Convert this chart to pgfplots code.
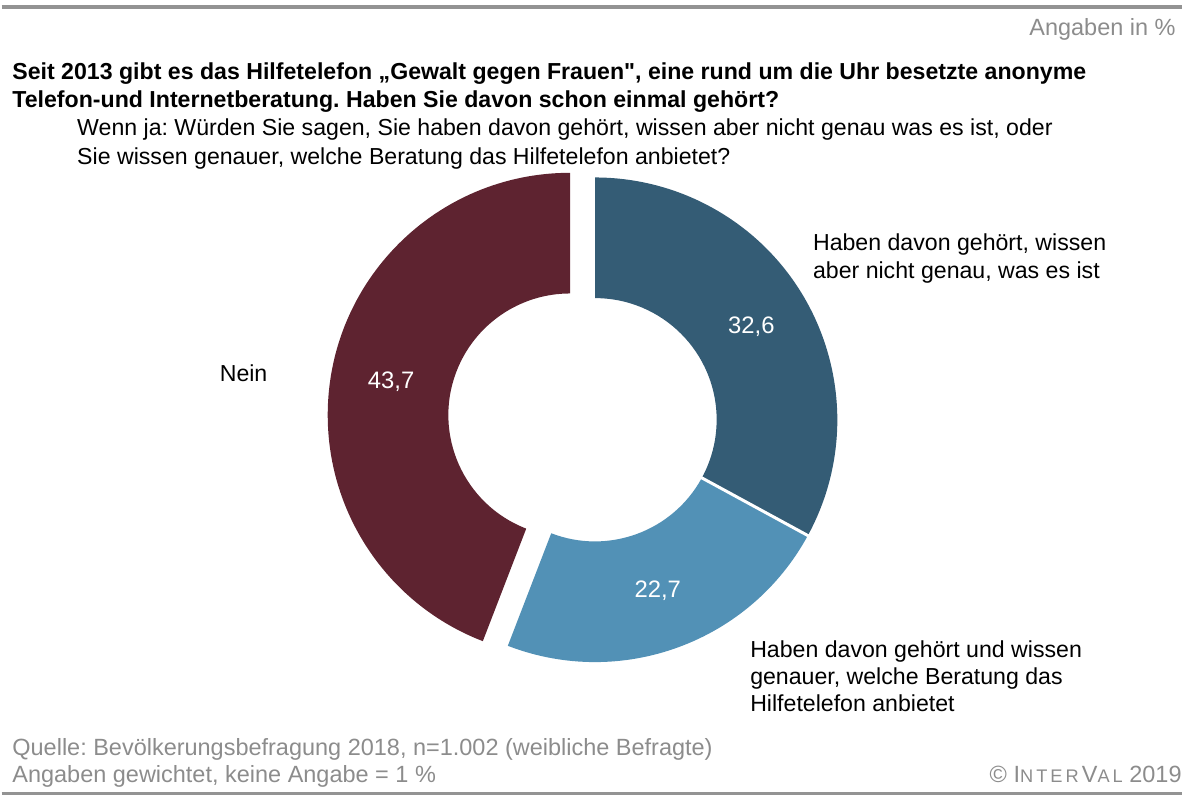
\documentclass[border=0pt]{standalone}
\usepackage{pgfplots}
\pgfplotsset{compat=1.18}
\usepackage{fontspec}
\setmainfont{Liberation Sans}
\frenchspacing
\definecolor{cnein}{HTML}{5E2330}
\definecolor{cdark}{HTML}{345C75}
\definecolor{clight}{HTML}{5291B6}
\definecolor{cgrey}{HTML}{8C8C8C}
\definecolor{crule}{HTML}{939393}

% shares in percent (keine Angabe = 1 %)
\def\vDark{32.6}
\def\vLight{22.7}
\def\vNein{43.7}
% ring geometry, 1 unit = 100 px of the original
\def\cx{5.95}\def\cy{3.78}\def\rIn{1.22}\def\rOut{2.43}\def\expl{0.255}

\pgfmathsetmacro\tot{\vDark+\vLight+\vNein}
\pgfmathsetmacro\aA{90}
\pgfmathsetmacro\aB{90-360*\vDark/\tot}
\pgfmathsetmacro\aC{\aB-360*\vLight/\tot}
\pgfmathsetmacro\aD{\aC+360}
\pgfmathsetmacro\mDark{(\aA+\aB)/2}
\pgfmathsetmacro\mLight{(\aB+\aC)/2}
\pgfmathsetmacro\mNein{(90+\aD)/2}
\pgfmathsetmacro\nx{\cx+\expl*cos(\mNein)}
\pgfmathsetmacro\ny{\cy+\expl*sin(\mNein)}
\pgfmathsetmacro\rMid{(\rIn+\rOut)/2}
\pgfmathsetmacro\rDiff{\rIn-\rOut}
\pgfmathsetmacro\lDx{\cx+\rMid*cos(\mDark)}
\pgfmathsetmacro\lDy{\cy+\rMid*sin(\mDark)}
\pgfmathsetmacro\lLx{\cx+\rMid*cos(\mLight)}
\pgfmathsetmacro\lLy{\cy+\rMid*sin(\mLight)}
\pgfmathsetmacro\lNx{\nx+\rMid*cos(\mNein)}
\pgfmathsetmacro\lNy{\ny+\rMid*sin(\mNein)}
% separator between the two blue parts
\pgfmathsetmacro\sAx{\cx+(\rIn-0.03)*cos(\aB)}
\pgfmathsetmacro\sAy{\cy+(\rIn-0.03)*sin(\aB)}
\pgfmathsetmacro\sBx{\cx+(\rOut+0.03)*cos(\aB)}
\pgfmathsetmacro\sBy{\cy+(\rOut+0.03)*sin(\aB)}

% color, centre x, centre y, start angle, end angle
\newcommand\ring[5]{%
  \fill[#1] (axis cs:#2,#3) ++(#4:\rOut) arc[start angle=#4,end angle=#5,radius=\rOut]
    -- ++(#5:\rDiff) arc[start angle=#5,end angle=#4,radius=\rIn] -- cycle;}
\newcommand\val[1]{\pgfmathprintnumber[assume math mode=true,fixed,fixed zerofill,precision=1,use comma]{#1}}

\tikzset{
  txt/.style ={font=\fontsize{6.6}{7.9}\selectfont,inner sep=0pt},
  ttl/.style ={font=\fontsize{6.6}{7.9}\selectfont\bfseries,inner sep=0pt},
  gry/.style ={font=\fontsize{6.7}{7.9}\selectfont,inner sep=0pt,text=cgrey},
  num/.style ={font=\fontsize{6.8}{8}\selectfont,text=white,inner sep=0pt},
}

\begin{document}
\begin{tikzpicture}
\begin{axis}[
  x=1cm, y=1cm,
  xmin=0, xmax=11.84, ymin=0, ymax=7.99,
  hide axis, clip=false,
]
\path (axis cs:0,0) rectangle (axis cs:11.84,7.99);
% rules
\draw[crule,line width=0.035cm] (axis cs:0,7.92) -- (axis cs:11.84,7.92);
\draw[crule,line width=0.035cm] (axis cs:0,0.03) -- (axis cs:11.84,0.03);

% ring
\ring{cdark}{\cx}{\cy}{\aB}{\aA}
\ring{clight}{\cx}{\cy}{\aC}{\aB}
\ring{cnein}{\nx}{\ny}{90}{\aD}
\draw[white,line width=0.03cm] (axis cs:\sAx,\sAy) -- (axis cs:\sBx,\sBy);

\node[num] at (axis cs:\lDx,\lDy) {\val{\vDark}};
\node[num] at (axis cs:\lLx,\lLy) {\val{\vLight}};
\node[num] at (axis cs:\lNx,\lNy) {\val{\vNein}};

% texts
\node[gry,anchor=base east] at (axis cs:11.78,7.63) {Angaben in \%};
\node[ttl,anchor=base west] at (axis cs:0.10,7.19) {Seit 2013 gibt es das Hilfetelefon „Gewalt gegen Frauen\textquotedbl, eine rund um die Uhr besetzte anonyme};
\node[ttl,anchor=base west] at (axis cs:0.10,6.91) {Telefon-und Internetberatung. Haben Sie davon schon einmal gehört?};
\node[txt,anchor=base west] at (axis cs:0.75,6.63) {Wenn ja: Würden Sie sagen, Sie haben davon gehört, wissen aber nicht genau was es ist, oder};
\node[txt,anchor=base west] at (axis cs:0.75,6.34) {Sie wissen genauer, welche Beratung das Hilfetelefon anbietet?};

\node[txt,anchor=base west] at (axis cs:8.13,5.48) {Haben davon gehört, wissen};
\node[txt,anchor=base west] at (axis cs:8.13,5.20) {aber nicht genau, was es ist};
\node[txt,anchor=base west] at (axis cs:2.18,4.16) {Nein};
\node[txt,anchor=base west] at (axis cs:7.50,1.40) {Haben davon gehört und wissen};
\node[txt,anchor=base west] at (axis cs:7.50,1.12) {genauer, welche Beratung das};
\node[txt,anchor=base west] at (axis cs:7.50,0.85) {Hilfetelefon anbietet};

\node[gry,anchor=base west] at (axis cs:0.10,0.41) {Quelle: Bevölkerungsbefragung 2018, n=1.002 (weibliche Befragte)};
\node[gry,anchor=base west] at (axis cs:0.10,0.14) {Angaben gewichtet, keine Angabe = 1 \%};
\node[gry,anchor=base east] at (axis cs:11.84,0.14) {© I{\fontsize{5.2}{6}\selectfont N\,T\,E\,R\,}V{\fontsize{5.2}{6}\selectfont A\,L} 2019};
\end{axis}
\end{tikzpicture}
\end{document}
